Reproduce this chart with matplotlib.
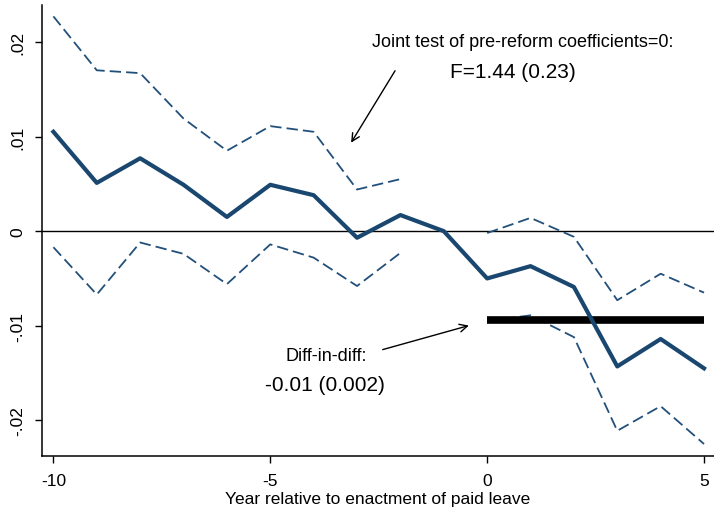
import matplotlib
matplotlib.use("Agg")
import matplotlib.pyplot as plt

plt.rcParams['font.family'] = ['Liberation Sans', 'DejaVu Sans']

# event-study estimates by year relative to enactment
years = [-10, -9, -8, -7, -6, -5, -4, -3, -2, -1, 0, 1, 2, 3, 4, 5]
coef = [0.0105, 0.0051, 0.0077, 0.0049, 0.0015, 0.0049, 0.0038, -0.0007, 0.0017, 0.0,
        -0.0050, -0.0037, -0.0059, -0.0143, -0.0114, -0.0145]

# 95% confidence bands, pre- and post-reform
pre_years = [-10, -9, -8, -7, -6, -5, -4, -3, -2]
pre_hi = [0.0227, 0.0170, 0.0167, 0.0119, 0.0085, 0.0111, 0.0105, 0.0044, 0.0055]
pre_lo = [-0.0017, -0.0067, -0.0012, -0.0024, -0.0056, -0.0014, -0.0028, -0.0058, -0.0023]
post_years = [0, 1, 2, 3, 4, 5]
post_hi = [-0.0002, 0.0014, -0.0006, -0.0073, -0.0045, -0.0065]
post_lo = [-0.0095, -0.0089, -0.0112, -0.0211, -0.0185, -0.0225]

did_years = [0, 5]
did_coef = -0.0094

navy = '#1a476f'
band = '#22507a'
dash = (6.3, 2.8)

fig = plt.figure(figsize=(7.14, 5.1), dpi=100)
ax = fig.add_axes([0.0584, 0.1033, 0.9416, 0.8849])

ax.axhline(0, color='black', lw=1.0, zorder=1)
for xs, ys in [(pre_years, pre_hi), (pre_years, pre_lo), (post_years, post_hi), (post_years, post_lo)]:
    ax.plot(xs, ys, color=band, lw=1.3, dashes=dash, zorder=2)
ax.plot(did_years, [did_coef, did_coef], color='black', lw=5.5, solid_capstyle='butt', zorder=3)
ax.plot(years, coef, color=navy, lw=3.0, zorder=4)

ax.annotate('', xy=(-3.17, 0.0091), xytext=(-2.09, 0.0172),
            arrowprops=dict(arrowstyle='->', color='black', lw=1.0, mutation_scale=14))
ax.text(0.81, 0.0200, 'Joint test of pre-reform coefficients=0:', fontsize=13,
        ha='center', va='center')
ax.text(0.59, 0.0169, 'F=1.44 (0.23)', fontsize=15, ha='center', va='center')

ax.annotate('', xy=(-0.36, -0.0099), xytext=(-2.47, -0.0126),
            arrowprops=dict(arrowstyle='->', color='black', lw=1.0, mutation_scale=14))
ax.text(-3.70, -0.0131, 'Diff-in-diff:', fontsize=13, ha='center', va='center')
ax.text(-3.75, -0.0162, '-0.01 (0.002)', fontsize=15, ha='center', va='center')

ax.set_xlim(-10.27, 5.23)
ax.set_ylim(-0.0238, 0.0239)
ax.set_xticks([-10, -5, 0, 5])
ax.set_xticklabels(['-10', '-5', '0', '5'])
ax.set_yticks([-0.02, -0.01, 0, 0.01, 0.02])
ax.set_yticklabels(['-.02', '-.01', '0', '.01', '.02'], rotation=90, va='center')
ax.tick_params(labelsize=12.5, length=5, width=1.0, pad=7)
ax.set_xlabel('Year relative to enactment of paid leave', fontsize=12.5, labelpad=2)

for s in ['top', 'right']:
    ax.spines[s].set_visible(False)
for s in ['left', 'bottom']:
    ax.spines[s].set_linewidth(1.1)

fig.savefig('out.png', dpi=100)
